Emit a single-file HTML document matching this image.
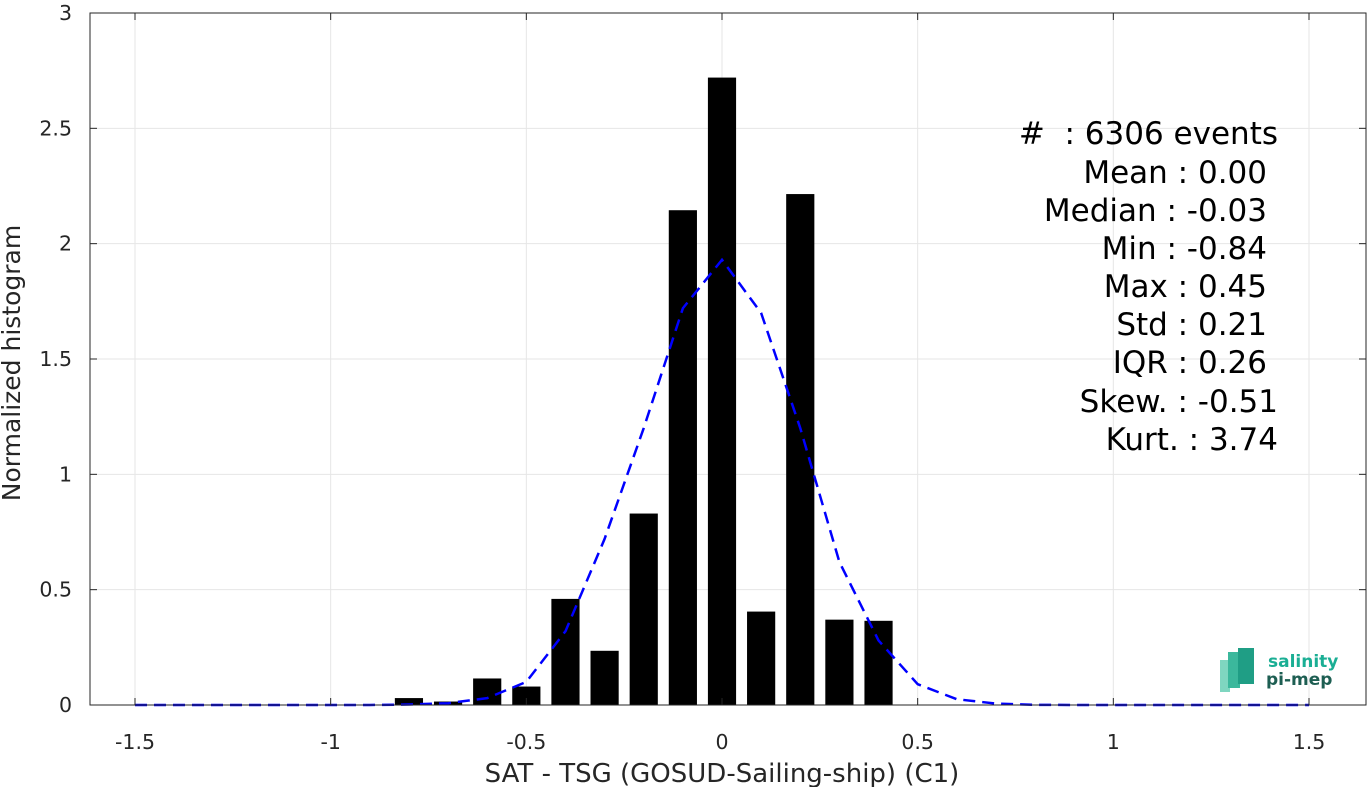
<!DOCTYPE html>
<html><head><meta charset="utf-8"><style>
body{margin:0;background:#fff;}
svg{display:block;font-family:"DejaVu Sans","Liberation Sans",sans-serif;}
</style></head><body>
<svg id="chart" width="1367" height="787" viewBox="0 0 1367 787">
<g id="grid"></g>
<g id="bars"></g>
<path id="fit" fill="none" stroke="#0000ff" stroke-width="2.5" stroke-dasharray="12,7"/>
<rect x="90" y="13" width="1276" height="692" fill="none" stroke="#262626" stroke-width="1"/>
<g id="ticks" font-size="20.5" fill="#262626"></g>
<text x="722" y="782" font-size="26" text-anchor="middle" fill="#262626">SAT - TSG (GOSUD-Sailing-ship) (C1)</text>
<text transform="translate(20,363) rotate(-90)" font-size="25" text-anchor="middle" fill="#262626">Normalized histogram</text>
<g font-size="31" fill="#000" text-anchor="end" style="white-space:pre">
<text x="1278" y="144" xml:space="preserve">#  : 6306 events</text>
<text x="1267" y="183">Mean : 0.00</text>
<text x="1267" y="221">Median : -0.03</text>
<text x="1267" y="259">Min : -0.84</text>
<text x="1267" y="297">Max : 0.45</text>
<text x="1267" y="335">Std : 0.21</text>
<text x="1267" y="373">IQR : 0.26</text>
<text x="1278" y="412">Skew. : -0.51</text>
<text x="1278" y="450">Kurt. : 3.74</text>
</g>
<g>
<rect x="1220" y="660" width="10" height="32" fill="#7fd6c0"/>
<rect x="1228" y="652" width="12" height="36" fill="#3bb89c"/>
<rect x="1238" y="648" width="16" height="36" fill="#1f9e85"/>
<text x="1268" y="667" font-size="17" font-weight="bold" fill="#1aae94">salinity</text>
<text x="1266" y="685" font-size="17" font-weight="bold" fill="#1d5e52">pi-mep</text>
</g>
</svg>
<script>
const binCenters=[-0.8,-0.7,-0.6,-0.5,-0.4,-0.3,-0.2,-0.1,0,0.1,0.2,0.3,0.4];
const binHeights=[0.03,0.015,0.115,0.08,0.46,0.235,0.83,2.145,2.72,0.405,2.215,0.37,0.365];
const fitX=[-1.5,-1.4,-1.3,-1.2,-1.1,-1.0,-0.9,-0.8,-0.7,-0.6,-0.5,-0.4,-0.3,-0.2,-0.1,0,0.1,0.2,0.3,0.4,0.5,0.6,0.7,0.8,0.9,1.0,1.1,1.2,1.3,1.4,1.5];
const fitY=[0,0,0,0,0,0,0,0.002,0.008,0.03,0.1,0.32,0.72,1.2,1.72,1.93,1.7,1.2,0.62,0.28,0.09,0.025,0.006,0.001,0,0,0,0,0,0,0];
const xTicks=[-1.5,-1,-0.5,0,0.5,1,1.5];
const xTickLabels=["-1.5","-1","-0.5","0","0.5","1","1.5"];
const yTicks=[0,0.5,1,1.5,2,2.5,3];
const yTickLabels=["0","0.5","1","1.5","2","2.5","3"];
const sx=v=>722+v*391.33;
const sy=v=>705-v*230.67;
const NS="http://www.w3.org/2000/svg";
const grid=document.getElementById('grid'),ticks=document.getElementById('ticks'),bars=document.getElementById('bars');
function mk(tag,attrs,parent){const e=document.createElementNS(NS,tag);for(const k in attrs)e.setAttribute(k,attrs[k]);parent.appendChild(e);return e;}
xTicks.forEach((t,i)=>{
  const g=mk('line',{x1:sx(t),x2:sx(t),y1:13,y2:705,stroke:'#e6e6e6','stroke-width':1},grid);
  
  
  mk('line',{x1:sx(t),x2:sx(t),y1:705,y2:698,stroke:'#262626'},ticks);
  mk('line',{x1:sx(t),x2:sx(t),y1:13,y2:20,stroke:'#262626'},ticks);
  const tx=mk('text',{x:sx(t),y:749,'text-anchor':'middle'},ticks);
  tx.textContent=xTickLabels[i];
  
  
});
yTicks.forEach((t,i)=>{
  const g=mk('line',{x1:90,x2:1366,y1:sy(t),y2:sy(t),stroke:'#e6e6e6','stroke-width':1},grid);
  
  
  mk('line',{x1:90,x2:97,y1:sy(t),y2:sy(t),stroke:'#262626'},ticks);
  mk('line',{x1:1359,x2:1366,y1:sy(t),y2:sy(t),stroke:'#262626'},ticks);
  const tx=mk('text',{x:72,y:sy(t)+7,'text-anchor':'end'},ticks);
  tx.textContent=yTickLabels[i];
  
  
});
const bw=0.072*391.33;
binCenters.forEach((c,i)=>{
  const r=mk('rect',{x:sx(c)-bw/2,y:sy(binHeights[i]),width:bw,height:sy(0)-sy(binHeights[i]),fill:'#000'},bars);
  
  
});
document.getElementById('fit').setAttribute('d',fitX.map((x,i)=>(i?'L':'M')+sx(x).toFixed(1)+','+sy(fitY[i]).toFixed(1)).join(' '));
</script>
</body></html>
